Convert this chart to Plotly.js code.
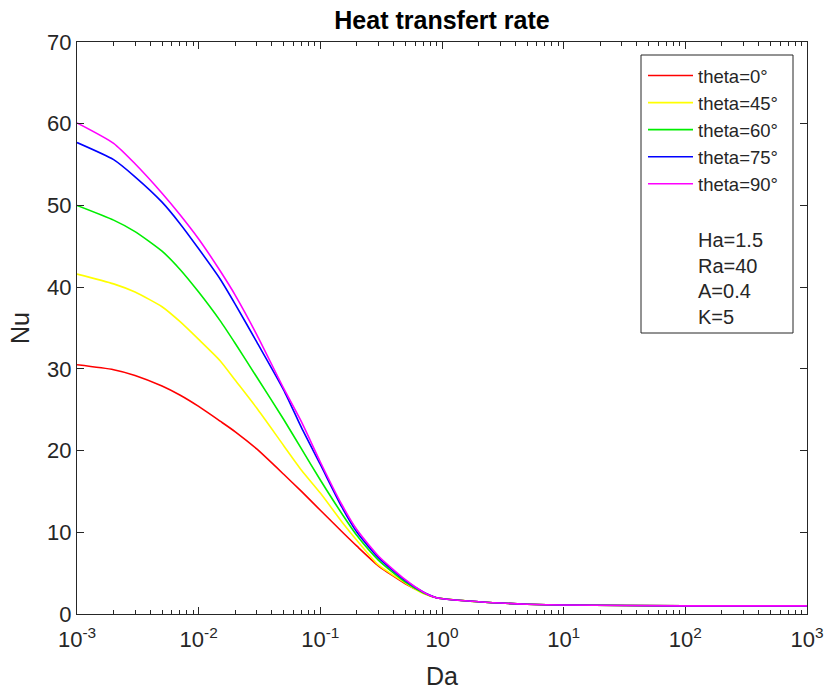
<!DOCTYPE html>
<html>
<head>
<meta charset="utf-8">
<script src="https://cdn.plot.ly/plotly-3.0.1.min.js"></script>
<style>html,body{margin:0;padding:0;background:#fff;}#chart{width:826px;height:690px;}</style>
</head>
<body>
<div id="chart"></div>
<script>
// Da values (log scale)
const Da = [0.001, 0.002, 0.003, 0.005, 0.007, 0.01, 0.015, 0.02, 0.03, 0.05, 0.07, 0.1, 0.15, 0.2, 0.3, 0.5, 0.7, 0.9, 2, 5, 10, 100, 1000];

// Nu for each inclination angle
const nu_theta0  = [30.5, 29.9, 29.2, 27.9, 26.8, 25.4, 23.6, 22.3, 20.2, 17.1, 15.0, 12.7, 10.1, 8.3, 5.9, 3.7, 2.6, 2.0, 1.5, 1.2, 1.1, 1.0, 1.0];
const nu_theta45 = [41.6, 40.4, 39.4, 37.6, 35.8, 33.6, 31.0, 28.6, 25.2, 20.6, 17.6, 14.8, 11.3, 9.0, 6.0, 3.8, 2.5, 2.0, 1.5, 1.2, 1.1, 1.0, 1.0];
const nu_theta60 = [50.0, 48.2, 46.8, 44.4, 42.2, 39.4, 35.9, 33.1, 29.0, 23.8, 20.2, 16.4, 12.3, 9.6, 6.6, 3.9, 2.6, 2.0, 1.5, 1.2, 1.1, 1.0, 1.0];
const nu_theta75 = [57.7, 55.6, 53.5, 50.4, 47.8, 44.7, 41.0, 37.9, 33.3, 27.4, 22.8, 18.3, 13.1, 10.0, 6.9, 4.1, 2.7, 2.0, 1.5, 1.2, 1.1, 1.0, 1.0];
const nu_theta90 = [60.1, 57.6, 55.1, 51.5, 48.9, 45.9, 42.0, 39.0, 34.2, 27.6, 23.5, 18.6, 13.4, 10.3, 7.1, 4.2, 2.7, 2.0, 1.5, 1.2, 1.1, 1.0, 1.0];

const seriesNames = ['theta=0°', 'theta=45°', 'theta=60°', 'theta=75°', 'theta=90°'];
const seriesColors = ['#ff0000', '#ffff00', '#00ee00', '#0000ff', '#ff00ff'];
const seriesValues = [nu_theta0, nu_theta45, nu_theta60, nu_theta75, nu_theta90];

const xTickVals = [0.001, 0.01, 0.1, 1, 10, 100, 1000];
const xTickText = ['10<sup>-3</sup>', '10<sup>-2</sup>', '10<sup>-1</sup>', '10<sup>0</sup>', '10<sup>1</sup>', '10<sup>2</sup>', '10<sup>3</sup>'];
const yTickVals = [0, 10, 20, 30, 40, 50, 60, 70];
const xLabelAlias = {};
xTickVals.forEach((v, i) => { xLabelAlias[String(v)] = xTickText[i]; });

const paramLines = ['Ha=1.5', 'Ra=40', 'A=0.4', 'K=5'];

const FONT = 'Liberation Sans, Arial, Helvetica, sans-serif';
const AXC = '#262626';

const traces = seriesNames.map((n, i) => ({
  x: Da, y: seriesValues[i], name: n, type: 'scatter', mode: 'lines',
  line: {color: seriesColors[i], width: 1.6, shape: 'spline', smoothing: 0.6}
}));

// plot area in pixels: x 77..807, y 42..614
const W = 826, H = 690, L = 77, R = 19, T = 42, B = 76;
const pw = W - L - R, ph = H - T - B;
const px = v => (v - L) / pw;
const py = v => (H - B - v) / ph;

const annotations = paramLines.map((t, i) => ({
  text: t, xref: 'paper', yref: 'paper', x: px(696), y: py(240 + i * 25.5),
  xanchor: 'left', yanchor: 'middle', showarrow: false,
  font: {family: FONT, size: 20, color: AXC}
}));

const layout = {
  width: W, height: H,
  margin: {l: L, r: R, t: T, b: B},
  paper_bgcolor: '#fff', plot_bgcolor: '#fff',
  font: {family: FONT, color: AXC},
  title: {text: '<b>Heat transfert rate</b>', x: 0.5, xref: 'paper', y: 1 - 20 / H, yref: 'container', yanchor: 'middle',
    font: {family: FONT, size: 25, color: '#000'}},
  xaxis: {
    type: 'log', range: [-3, 3], tickmode: 'linear', tick0: 0, dtick: 1, exponentformat: 'none',
    labelalias: xLabelAlias,
    ticks: 'inside', ticklen: 7, tickcolor: AXC, showline: true, linecolor: AXC, linewidth: 1, mirror: 'ticks',
    showgrid: false, zeroline: false, tickfont: {size: 22, color: AXC}, ticklabelstandoff: 6,
    minor: {dtick: 'D1', ticks: 'inside', ticklen: 4, tickwidth: 1, tickcolor: AXC, showgrid: false},
    title: {text: 'Da', font: {size: 25, color: AXC}, standoff: 18}
  },
  yaxis: {
    range: [0, 70], tickvals: yTickVals,
    ticks: 'inside', ticklen: 7, tickcolor: AXC, showline: true, linecolor: AXC, linewidth: 1, mirror: 'ticks',
    showgrid: false, zeroline: false, tickfont: {size: 22, color: AXC},
    title: {text: 'Nu', font: {size: 25, color: AXC}, standoff: 10}
  },
  showlegend: true,
  legend: {x: px(643), y: py(57), xanchor: 'left', yanchor: 'top', bgcolor: 'rgba(0,0,0,0)', borderwidth: 0,
    font: {family: FONT, size: 18.5, color: AXC}, itemwidth: 45, tracegroupgap: 0},
  shapes: [{type: 'rect', xref: 'paper', yref: 'paper', x0: px(641), x1: px(793), y0: py(55), y1: py(333),
    line: {color: AXC, width: 1}, fillcolor: 'rgba(255,255,255,0)'}],
  annotations: annotations
};

Plotly.newPlot('chart', traces, layout, {displayModeBar: false, staticPlot: true});
</script>
</body>
</html>
